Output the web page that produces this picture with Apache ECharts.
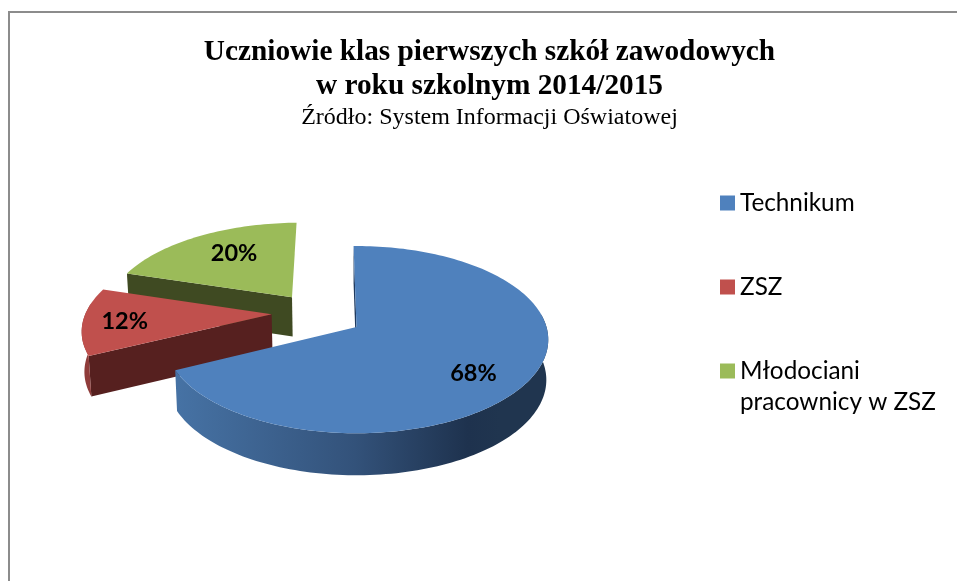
<!DOCTYPE html>
<html><head><meta charset="utf-8">
<style>html,body{margin:0;padding:0;background:#fff}#c{width:957px;height:581px}</style>
<script src="https://cdn.jsdelivr.net/npm/echarts@6/dist/echarts.min.js"></script>
</head><body><div id="c"></div>
<script>
// Data
const categories = ['Technikum', 'ZSZ', 'Młodociani pracownicy w ZSZ'];
const shares = [68, 12, 20];
const titleText = 'Uczniowie klas pierwszych szkół zawodowych\nw roku szkolnym 2014/2015';
const subtitleText = 'Źródło: System Informacji Oświatowej';

// Styles
const topColors = ['#4f81bd', '#c0504d', '#9bbb59'];
const cutColors = ['#1f3a5f', '#56201f', '#3f4a22'];
const rimColors = [
  {type:'linear',x:178,y:0,x2:500,y2:0,global:true,colorStops:[{offset:0,color:'#4672a4'},{offset:0.55,color:'#33527a'},{offset:0.9,color:'#1e324e'},{offset:1,color:'#20354f'}]},
  '#8f3c3a', '#6f8a3f'];
const explode = [[0, 0], [-0.455, -0.14], [-0.355, -0.34]];
const labelOffsets = [[117, 46], [-147, 7], [-58, -44]];
const drawOrder = [3, 2, 1];
const legendTops = [187.5, 271.5, 324.5];

// Projection of the tilted pie
const X0 = 356.5, Y0 = 327, RX = 190, RY = 91.9, PERSP = 0.135, START_DEG = -1;
function project(u, v, down) {
  const w = 1 - PERSP * v;
  let x = X0 + RX * u / w, y = Y0 + RY * v / w;
  if (down) { y += 40 + 15 * (1 - w); x = X0 + (x - X0) * 0.99; }
  return [x, y];
}
const total = shares.reduce((a, b) => a + b, 0);
function pieItem(params, api) {
  const i = params.seriesIndex;
  const before = shares.slice(0, i).reduce((a, b) => a + b, 0);
  const value = api.value(0);
  const a0 = (START_DEG + before / total * 360) * Math.PI / 180;
  const a1 = a0 + value / total * 2 * Math.PI;
  const [eu, ev] = explode[i];
  const rimPt = (a) => [eu + Math.sin(a), ev - Math.cos(a)];
  const n = Math.max(12, Math.round((a1 - a0) * 40));
  const angles = [];
  for (let k = 0; k <= n; k++) angles.push(a0 + (a1 - a0) * k / n);
  const rimWorld = angles.map(rimPt);
  const apex = [eu, ev];
  const children = [];
  const poly = (pts, fill) => children.push({type: 'polygon', shape: {points: pts}, style: {fill, stroke: null}});
  const quad = (p, q) => [project(p[0], p[1]), project(q[0], q[1]), project(q[0], q[1], true), project(p[0], p[1], true)];
  // cut faces turned towards the viewer
  if (-Math.sin(a0) > 0) poly(quad(apex, rimPt(a0)), cutColors[i]);
  if (Math.sin(a1) > 0) poly(quad(apex, rimPt(a1)), cutColors[i]);
  // outer curved wall, only where it faces the viewer
  const front = angles.filter(a => Math.cos(a) < 0.14).map(rimPt);
  if (front.length > 1) {
    poly(front.map(p => project(p[0], p[1])).concat(front.slice().reverse().map(p => project(p[0], p[1], true))), rimColors[i]);
  }
  // top face
  poly([project(eu, ev)].concat(rimWorld.map(p => project(p[0], p[1]))), topColors[i]);
  // percentage label
  const c = project(eu, ev);
  children.push({type: 'text', style: {
    x: c[0] + labelOffsets[i][0], y: c[1] + labelOffsets[i][1],
    text: Math.round(value / total * 100) + '%', fill: '#000',
    font: 'bold 23.5px Lato', align: 'center', verticalAlign: 'middle'}});
  return {type: 'group', children};
}

const chart = echarts.init(document.getElementById('c'), null, {renderer: 'canvas'});
chart.setOption({
  animation: false,
  backgroundColor: '#fff',
  title: {
    text: titleText, subtext: subtitleText,
    left: 484.5, top: 30, textAlign: 'center', itemGap: 1,
    textStyle: {fontFamily: 'Liberation Serif', fontWeight: 'bold', fontSize: 29.3, color: '#000', lineHeight: 34},
    subtextStyle: {fontFamily: 'Liberation Serif', fontSize: 24, color: '#000', lineHeight: 28}
  },
  legend: categories.map((name, i) => ({
    data: [name], orient: 'vertical', left: 720, top: legendTops[i],
    icon: 'rect', itemWidth: 15, itemHeight: 15, itemGap: 0,
    selectedMode: false, padding: 0,
    formatter: (s) => s.replace('Młodociani ', '\nMłodociani\n'),
    textStyle: {fontFamily: 'Lato', fontSize: 24.3, color: '#000', lineHeight: 31}
  })),
  graphic: [
    {type: 'line', shape: {x1: 8, y1: 12, x2: 957, y2: 12}, style: {stroke: '#8c8c8c', lineWidth: 2}, silent: true},
    {type: 'line', shape: {x1: 9, y1: 11, x2: 9, y2: 581}, style: {stroke: '#8c8c8c', lineWidth: 2}, silent: true}
  ],
  series: categories.map((name, i) => ({
    type: 'custom', name, coordinateSystem: 'none', z: drawOrder[i], clip: false,
    itemStyle: {color: topColors[i]}, renderItem: pieItem, data: [[shares[i]]]
  }))
});
</script></body></html>
